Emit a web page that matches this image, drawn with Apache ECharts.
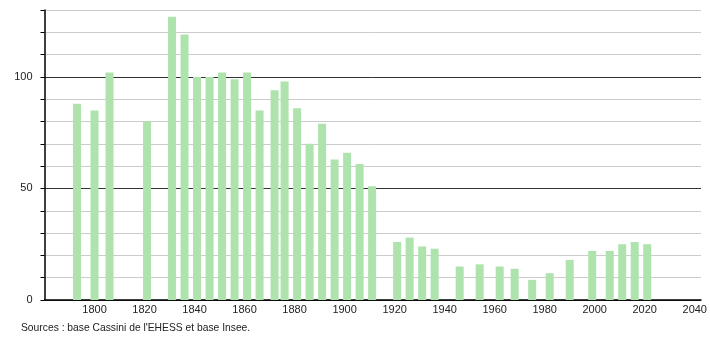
<!DOCTYPE html>
<html>
<head>
<meta charset="utf-8">
<script src="https://cdn.jsdelivr.net/npm/echarts@6/dist/echarts.min.js"></script>
<style>
html,body{margin:0;padding:0;background:#fff;}
#c{width:710px;height:340px;}
</style>
</head>
<body>
<div id="c"></div>
<script>
const years = [1793,1800,1806,1821,1831,1836,1841,1846,1851,1856,1861,1866,1872,1876,1881,1886,1891,1896,1901,1906,1911,1921,1926,1931,1936,1946,1954,1962,1968,1975,1982,1990,1999,2006,2011,2016,2021];
const population = [88,85,102,80,127,119,100,100,102,99,102,85,94,98,86,70,79,63,66,61,51,26,28,24,23,15,16,15,14,9,12,18,22,22,25,26,25];
const yLabels = [0,50,100];
const xLabelStep = 20;
const sourceText = "Sources : base Cassini de l'EHESS et base Insee.";

const chart = echarts.init(document.getElementById('c'), null, {renderer:'canvas'});
chart.setOption({
  animation:false,
  backgroundColor:'#fff',
  textStyle:{fontFamily:'Liberation Sans, Arial, sans-serif'},
  grid:{left:44.5,right:9,top:10,bottom:40,containLabel:false},
  xAxis:{
    type:'value', min:1780, max:2042.5, interval:xLabelStep,
    axisLine:{show:true,onZero:false,lineStyle:{color:'#000',width:1.5}},
    axisTick:{show:false},
    splitLine:{show:false},
    axisLabel:{color:'#222',fontSize:11,margin:4,showMinLabel:false,showMaxLabel:false,
      formatter:v=> (v%xLabelStep===0 && v>1780 && v<=2040) ? String(v) : ''}
  },
  yAxis:{
    type:'value', min:0, max:130, interval:10,
    axisLine:{show:true,lineStyle:{color:'#000',width:1.5}},
    axisTick:{show:true,length:4,lineStyle:{color:'#000'}},
    axisLabel:{color:'#222',fontSize:11,margin:12,
      formatter:v=> yLabels.includes(v) ? String(v) : ''},
    splitLine:{show:true,lineStyle:{color:['#333','#cccccc','#cccccc','#cccccc','#cccccc'],width:1}}
  },
  graphic:[{type:'text',left:21,top:323,style:{text:sourceText,fill:'#222',font:'10.3px Liberation Sans, Arial, sans-serif'}}],
  series:[{
    type:'bar',
    barWidth:8,
    data:years.map((y,i)=>[y,population[i]]),
    itemStyle:{color:'#aee3ae'},
    z:3
  }]
});
</script>
</body>
</html>
